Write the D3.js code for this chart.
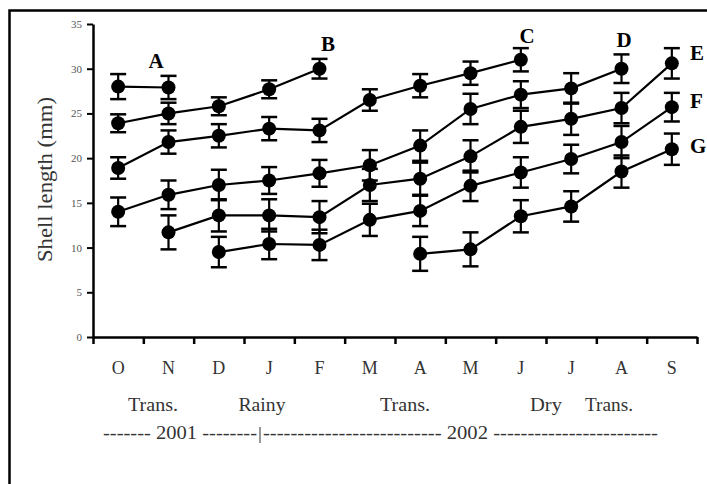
<!DOCTYPE html>
<html><head><meta charset="utf-8">
<script src="https://cdn.jsdelivr.net/npm/d3@7/dist/d3.min.js"></script>
<style>body{margin:0;background:#fff}svg{display:block}</style>
</head><body>
<svg id="c" width="707" height="484"></svg>
<script>
const months = ["O","N","D","J","F","M","A","M","J","J","A","S"];
const yTicks = [0,5,10,15,20,25,30,35];
const cohortNames = ["A","B","C","D","E","F","G"];
// mean shell length (mm) per month, null = not present
const cohortA = [28.0, 27.9, null, null, null, null, null, null, null, null, null, null];
const cohortB = [23.9, 25.0, 25.8, 27.7, 30.0, null, null, null, null, null, null, null];
const cohortC = [18.9, 21.8, 22.5, 23.3, 23.1, 26.5, 28.1, 29.5, 31.0, null, null, null];
const cohortD = [14.0, 15.9, 17.0, 17.5, 18.3, 19.2, 21.4, 25.5, 27.1, 27.8, 30.0, null];
const cohortE = [null, 11.7, 13.6, 13.6, 13.4, 17.0, 17.7, 20.2, 23.5, 24.4, 25.6, 30.6];
const cohortF = [null, null, 9.5, 10.4, 10.3, 13.1, 14.1, 16.9, 18.4, 19.9, 21.8, 25.7];
const cohortG = [null, null, null, null, null, null, 9.3, 9.8, 13.5, 14.6, 18.5, 21.0];
// error (± mm)
const errA = [1.4, 1.3, null, null, null, null, null, null, null, null, null, null];
const errB = [1.0, 1.2, 1.0, 1.0, 1.1, null, null, null, null, null, null, null];
const errC = [1.2, 1.3, 1.3, 1.3, 1.3, 1.2, 1.3, 1.3, 1.3, null, null, null];
const errD = [1.6, 1.6, 1.7, 1.5, 1.5, 1.7, 1.7, 1.7, 1.5, 1.7, 1.6, null];
const errE = [null, 1.9, 1.8, 1.8, 1.8, 1.8, 1.8, 1.8, 1.8, 1.8, 1.7, 1.7];
const errF = [null, null, 1.7, 1.7, 1.7, 1.8, 1.7, 1.7, 1.7, 1.6, 1.8, 1.6];
const errG = [null, null, null, null, null, null, 1.9, 1.9, 1.8, 1.7, 1.8, 1.75];
const seasons = ["Trans.", "Rainy", "Trans.", "Dry", "Trans."];
const yearLeft = "------- 2001 --------";
const yearRight = "-------------------------- 2002 ------------------------";

const series = [cohortA, cohortB, cohortC, cohortD, cohortE, cohortF, cohortG];
const errs = [errA, errB, errC, errD, errE, errF, errG];

const svg = d3.select("#c");
const mLeft = 93, mRight = 697, mTop = 24, mBottom = 337;
const x = d3.scaleBand().domain(d3.range(months.length)).range([mLeft, mRight]);
const xi = d3.scaleLinear().domain([0, months.length]).range([mLeft, mRight]);
const y = d3.scaleLinear().domain([0, 35]).range([mBottom, mTop]);

// frame
svg.append("rect").attr("x", 9.5).attr("y", 10.5).attr("width", 720).attr("height", 500)
  .attr("fill", "none").attr("stroke", "#000").attr("stroke-width", 2.5);

const serif = "'Liberation Serif','Times New Roman',Times,serif";

// y axis
const ya = svg.append("g").attr("transform", `translate(${mLeft},0)`)
  .call(d3.axisLeft(y).tickValues(yTicks).tickSize(6).tickSizeOuter(0).tickPadding(5));
ya.select(".domain").attr("stroke-width", 2.5);
ya.selectAll(".tick line").attr("stroke-width", 2);
ya.selectAll("text").attr("font-family", serif).attr("font-size", 11).attr("fill", "#555");

// x axis
const xa = svg.append("g").attr("transform", `translate(0,${mBottom})`)
  .call(d3.axisBottom(xi).tickValues(d3.range(months.length + 1)).tickSize(7).tickSizeOuter(0).tickFormat(""));
xa.select(".domain").attr("stroke-width", 2.5);
xa.selectAll(".tick line").attr("stroke-width", 2.5);

// month labels
svg.append("g").selectAll("text").data(months).join("text")
  .attr("x", (d, i) => x(i) + x.bandwidth() / 2).attr("y", 374)
  .attr("text-anchor", "middle").attr("font-family", serif).attr("font-size", 18)
  .attr("fill", "#333").text(d => d);

// season labels
const seasonX = [153, 262, 405, 546, 609];
const seasonW = [50, 47, 50, 32, 48];
svg.append("g").selectAll("text").data(seasons).join("text")
  .attr("x", (d, i) => seasonX[i] - seasonW[i] / 2).attr("y", 411)
  .attr("textLength", (d, i) => seasonW[i]).attr("lengthAdjust", "spacingAndGlyphs")
  .attr("font-family", serif).attr("font-size", 19).attr("fill", "#333").text(d => d);

svg.append("text").attr("x", 103).attr("y", 439)
  .attr("textLength", 154).attr("lengthAdjust", "spacingAndGlyphs")
  .attr("font-family", serif).attr("font-size", 18).attr("fill", "#333").text(yearLeft);
svg.append("line").attr("x1", 260).attr("x2", 260).attr("y1", 427).attr("y2", 443)
  .attr("stroke", "#777").attr("stroke-width", 1.5);
svg.append("text").attr("x", 263).attr("y", 439)
  .attr("textLength", 395).attr("lengthAdjust", "spacingAndGlyphs")
  .attr("font-family", serif).attr("font-size", 18).attr("fill", "#333").text(yearRight);

// y label
svg.append("text").attr("transform", "translate(52,180) rotate(-90)")
  .attr("x", -82).attr("textLength", 165).attr("lengthAdjust", "spacingAndGlyphs")
  .attr("font-family", serif).attr("font-size", 20)
  .attr("fill", "#333").text("Shell length (mm)");

// series
const line = d3.line().defined(d => d.v != null).x(d => x(d.i) + x.bandwidth() / 2).y(d => y(d.v));
series.forEach((s, k) => {
  const pts = s.map((v, i) => ({i, v, e: errs[k][i]}));
  const g = svg.append("g");
  g.append("path").datum(pts).attr("d", line).attr("fill", "none").attr("stroke", "#000").attr("stroke-width", 2.2);
  const valid = pts.filter(d => d.v != null);
  const cx = d => x(d.i) + x.bandwidth() / 2;
  g.selectAll("line.eb").data(valid).join("line").attr("class", "eb")
    .attr("x1", cx).attr("x2", cx).attr("y1", d => y(d.v - d.e)).attr("y2", d => y(d.v + d.e))
    .attr("stroke", "#000").attr("stroke-width", 2.2);
  ["+", "-"].forEach(sg => {
    g.selectAll("line.cap" + (sg === "+" ? "u" : "d")).data(valid).join("line")
      .attr("class", "cap" + (sg === "+" ? "u" : "d"))
      .attr("x1", d => cx(d) - 8).attr("x2", d => cx(d) + 8)
      .attr("y1", d => y(sg === "+" ? d.v + d.e : d.v - d.e))
      .attr("y2", d => y(sg === "+" ? d.v + d.e : d.v - d.e))
      .attr("stroke", "#000").attr("stroke-width", 2.5);
  });
  g.selectAll("circle").data(valid).join("circle")
    .attr("cx", cx).attr("cy", d => y(d.v)).attr("r", 7).attr("fill", "#000");
});

// cohort letters
const letterX = [156, 328, 527, 624, 690, 690, 690];
const letterY = [68, 51, 43, 47, 60, 108, 153];
const letterAnchor = ["middle", "middle", "middle", "middle", "start", "start", "start"];
svg.append("g").selectAll("text").data(cohortNames).join("text")
  .attr("x", (d, i) => letterX[i]).attr("y", (d, i) => letterY[i])
  .attr("text-anchor", (d, i) => letterAnchor[i])
  .attr("font-family", serif).attr("font-weight", "bold").attr("font-size", 21)
  .attr("fill", "#000").text(d => d);
</script>
</body></html>
